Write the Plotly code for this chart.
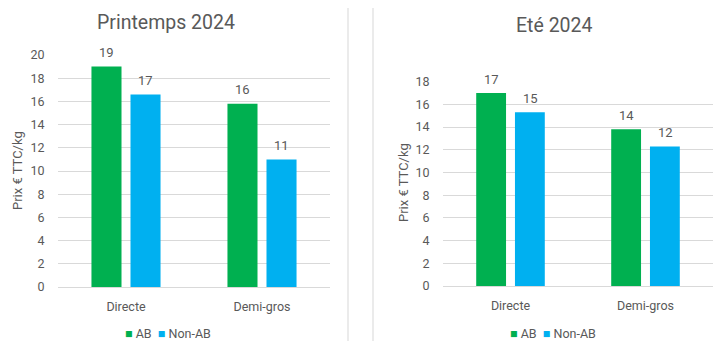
import plotly.graph_objects as go

categories = ["Directe", "Demi-gros"]
series_names = ["AB", "Non-AB"]
printemps_ab = [19.0, 15.8]
printemps_nonab = [16.6, 11.0]
ete_ab = [17.0, 13.8]
ete_nonab = [15.3, 12.3]
panel_titles = ["Printemps 2024", "Eté 2024"]
y_title = "Prix € TTC/kg"

W, H = 723, 343
GREEN = "#00b050"
BLUE = "#00b0f0"
COLORS = [GREEN, BLUE]
TXT = "#595959"
GRID = "#d9d9d9"
FONT = "Roboto"

def px_x(p):
    return p / W

def px_y(p):
    return (H - p) / H

fig = go.Figure()

panels = [
    dict(ab=printemps_ab, non=printemps_nonab, xa="x", ya="y"),
    dict(ab=ete_ab, non=ete_nonab, xa="x2", ya="y2"),
]
for pn in panels:
    for name, vals, col in [(series_names[0], pn["ab"], GREEN), (series_names[1], pn["non"], BLUE)]:
        fig.add_trace(go.Bar(
            x=categories, y=vals, name=name, marker=dict(color=col, line=dict(width=0)),
            xaxis=pn["xa"], yaxis=pn["ya"], cliponaxis=False, showlegend=False,
            hoverinfo="skip",
        ))

# value labels
offsets = [-19.5, 19.5]
for pn in panels:
    for off, vals in zip(offsets, [pn["ab"], pn["non"]]):
        for c, v in zip(categories, vals):
            fig.add_annotation(
                x=c, y=v, xref=pn["xa"], yref=pn["ya"], text=str(int(v + 0.5)),
                showarrow=False, xshift=off, yshift=14, yanchor="middle",
                font=dict(family=FONT, size=13, color=TXT),
            )

axis_common = dict(
    showgrid=False, showline=False, zeroline=False,
    tickfont=dict(family=FONT, size=12.5, color=TXT),
    ticks="outside", ticklen=8, tickcolor="rgba(0,0,0,0)",
    fixedrange=True, automargin=False,
)
yaxis_common = dict(
    showgrid=True, gridcolor=GRID, gridwidth=1, zeroline=True, zerolinecolor=GRID,
    zerolinewidth=1, showline=False, dtick=2,
    tickfont=dict(family=FONT, size=12.5, color=TXT),
    ticks="outside", ticklen=10, tickcolor="rgba(0,0,0,0)",
    fixedrange=True, automargin=False,
)

fig.update_layout(
    width=W, height=H,
    margin=dict(l=0, r=0, t=0, b=0, autoexpand=False),
    paper_bgcolor="white", plot_bgcolor="white",
    barmode="group", bargap=0.426, bargroupgap=0.23,
    xaxis=dict(domain=[px_x(58), px_x(330)], anchor="y", **axis_common),
    yaxis=dict(domain=[px_y(287), px_y(55)], range=[0, 20], anchor="x", **yaxis_common),
    xaxis2=dict(domain=[px_x(443), px_x(713)], anchor="y2", **axis_common),
    yaxis2=dict(domain=[px_y(286), px_y(81.7)], range=[0, 18], anchor="x2", **yaxis_common),
    showlegend=False,
)

# legends (compact Office-style)
for cx in [168, 553]:
    parts = []
    for nm, col in zip(series_names, COLORS):
        parts.append(f"<span style='color:{col}'>■</span> {nm}")
    fig.add_annotation(x=px_x(cx), y=px_y(333), xref="paper", yref="paper",
                       text="  ".join(parts), showarrow=False, xanchor="center",
                       yanchor="middle", font=dict(family=FONT, size=12.5, color=TXT))

# panel titles
for t, cx, cy in [(panel_titles[0], 166, 22), (panel_titles[1], 554, 25)]:
    fig.add_annotation(x=px_x(cx), y=px_y(cy), xref="paper", yref="paper", text=t,
                       showarrow=False, xanchor="center", yanchor="middle",
                       font=dict(family=FONT, size=19.5, color=TXT))

# y-axis titles
for cx, cy in [(18, 171), (403, 183)]:
    fig.add_annotation(x=px_x(cx), y=px_y(cy), xref="paper", yref="paper", text=y_title,
                       showarrow=False, textangle=-90, xanchor="center", yanchor="middle",
                       font=dict(family=FONT, size=13, color=TXT))

# panel border lines
for lx in [348, 373]:
    fig.add_shape(type="line", xref="paper", yref="paper", x0=px_x(lx), x1=px_x(lx),
                  y0=px_y(8), y1=px_y(341), line=dict(color="#e4e4e4", width=1.5))

fig.write_html("out.html", config={"displayModeBar": False, "staticPlot": True},
               post_script="document.body.style.margin='0';document.body.style.overflow='hidden';")
